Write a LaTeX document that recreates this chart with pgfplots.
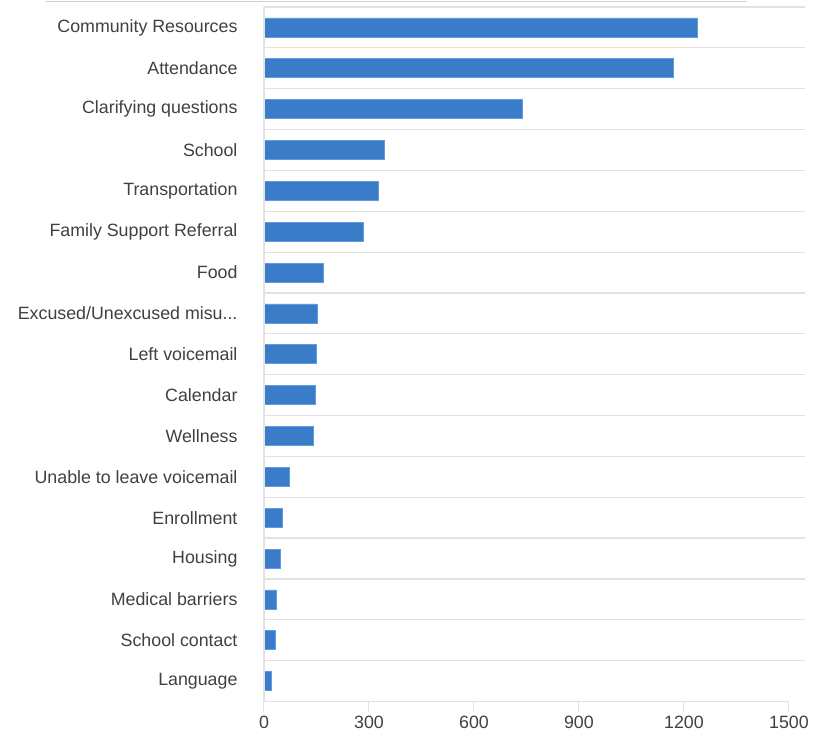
\documentclass[border=0pt]{standalone}
\usepackage{fontspec}
\setmainfont{Liberation Sans}
\usepackage{pgfplots}
\pgfplotsset{compat=1.18}

\definecolor{barfill}{HTML}{3B7CC8}
\definecolor{baredge}{HTML}{5E9BE0}
\definecolor{gridc}{HTML}{E2E2E2}
\definecolor{txt}{HTML}{404040}

\newcommand{\dotsx}{.\kern0pt.\kern0pt.}

\begin{document}
\begin{tikzpicture}
\begin{axis}[
    scale only axis,
    width=541pt, height=694.5pt,
    xbar, bar width=19pt,
    xmin=0, xmax=1546,
    ymin=-0.5, ymax=16.5,
    y dir=reverse,
    xtick={0,300,600,900,1200,1500},
    ytick={0,1,2,3,4,5,6,7,8,9,10,11,12,13,14,15,16},
    yticklabels={Community Resources, Attendance, Clarifying questions, School,
        Transportation, Family Support Referral, Food, Excused/Unexcused misu\dotsx,
        Left voicemail, Calendar, Wellness, Unable to leave voicemail, Enrollment,
        Housing, Medical barriers, School contact, Language},
    minor ytick={-0.5,0.5,1.5,2.5,3.5,4.5,5.5,6.5,7.5,8.5,9.5,10.5,11.5,12.5,13.5,14.5,15.5},
    yminorgrids,
    minor grid style={gridc, line width=1.2pt},
    axis line style={draw=none},
    xtick pos=bottom, ytick pos=left,
    tick align=outside,
    major tick length=10pt,
    minor tick length=0pt,
    xtick style={draw=gridc, line width=1pt},
    ytick style={draw=none},
    tick label style={font=\fontsize{17.8}{20}\selectfont, text=txt},
    yticklabel style={xshift=-13pt},
    xticklabel style={yshift=-1pt},
    /pgf/number format/assume math mode=true,
    /pgf/number format/1000 sep={},
    clip=false,
]
\addplot[fill=barfill, draw=baredge, line width=0.6pt] coordinates {
    (1237,0) (1171,1) (737,2) (343,3) (326,4) (283,5) (169,6) (151,7)
    (149,8) (146,9) (140,10) (71,11) (51,12) (46,13) (34,14) (31,15) (20,16)
};
\draw[gridc, line width=1.2pt] (axis cs:0,16.5) -- (axis cs:1500,16.5);
\draw[gridc, line width=1.2pt] (axis cs:0,-0.5) -- (axis cs:0,16.5);
\coordinate (sw) at (rel axis cs:0,0);
\coordinate (ne) at (rel axis cs:1,1);
\end{axis}
\draw[gridc!80!gray, line width=1pt] ([shift={(-218pt,5.5pt)}]sw |- ne) -- ([shift={(-58pt,5.5pt)}]ne);
\pgfresetboundingbox
\path ([shift={(-264pt,-38pt)}]sw) rectangle ([shift={(20pt,7pt)}]ne);
\end{tikzpicture}
\end{document}
